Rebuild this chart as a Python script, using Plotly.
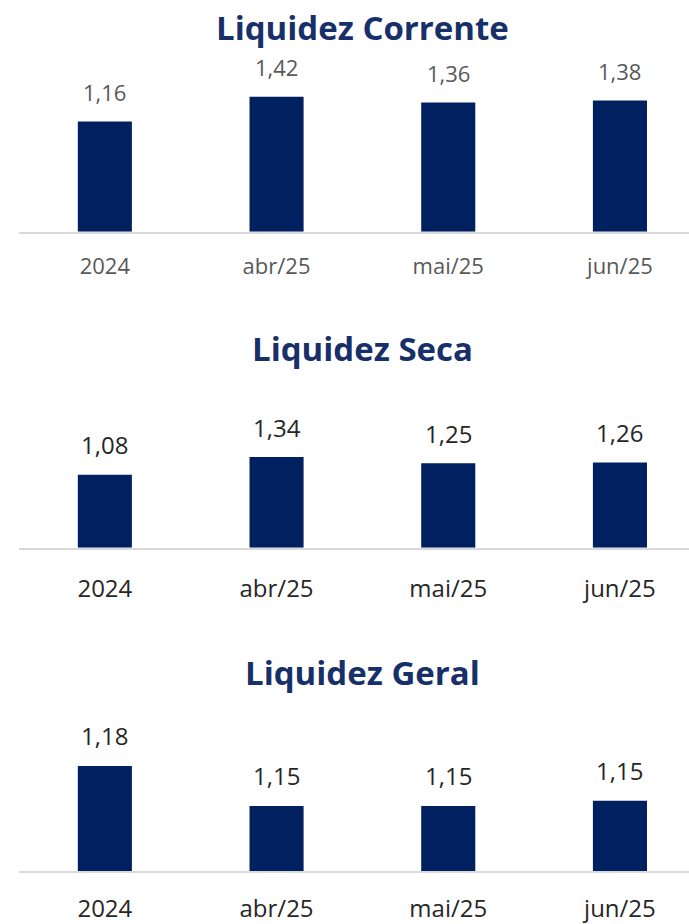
import plotly.graph_objects as go

# ---- data ----
categorias = ["2024", "abr/25", "mai/25", "jun/25"]
liquidez_corrente = [1.16, 1.42, 1.36, 1.38]
liquidez_seca = [1.08, 1.34, 1.25, 1.26]
liquidez_geral = [1.18, 1.15, 1.15, 1.154]
titulos = ["Liquidez Corrente", "Liquidez Seca", "Liquidez Geral"]

# ---- layout constants (pixels) ----
W, H = 689, 924
BAR = "#002060"
TITLE_C = "#17306a"
FONT = "Open Sans"

def py(px):
    return 1 - px / H

# (bottom px, top px, y-min, px per unit, title y px, label colour, font size, standoff)
panels = [
    (231.7, 50, 0.0, 95.0, 27, "#595959", 22, 14),
    (547.7, 380, 0.0, 67.6, 349, "#262626", 24, 18),
    (871.3, 700, 1.101, 1333.0, 672, "#262626", 24, 15),
]
series = [liquidez_corrente, liquidez_seca, liquidez_geral]

fig = go.Figure()
annotations = []
x_left = 19 / W
cat_px = 171.7
x_max = -0.5 + (W - 19) / cat_px

for i, (vals, (bot, top, ymin, scale, ty, lc, fs, so)) in enumerate(zip(series, panels)):
    n = "" if i == 0 else str(i + 1)
    fig.add_trace(go.Bar(
        x=categorias, y=vals, marker=dict(color=BAR, line=dict(width=0)),
        xaxis="x" + n, yaxis="y" + n, showlegend=False, hoverinfo="skip",
    ))
    ymax = ymin + (bot - top) / scale
    fig.update_layout(**{
        "xaxis" + n: dict(
            type="category", categoryorder="array", categoryarray=categorias,
            domain=[x_left, 1], anchor="y" + n, range=[-0.5, x_max],
            showline=True, linecolor="#d9d9d9", linewidth=2,
            showgrid=False, zeroline=False, ticks="",
            tickfont=dict(family=FONT, size=fs, color=lc),
            ticklabelstandoff=so, automargin=False,
            fixedrange=True,
        ),
        "yaxis" + n: dict(
            domain=[py(bot), py(top)], anchor="x" + n, range=[ymin, ymax],
            visible=False, showgrid=False, zeroline=False, fixedrange=True,
            automargin=False,
        ),
    })
    for j, v in enumerate(vals):
        annotations.append(dict(
            x=j, y=v, xref="x" + n, yref="y" + n, yshift=30,
            text=f"{v:.2f}".replace(".", ","), showarrow=False,
            yanchor="middle", xanchor="center",
            font=dict(family=FONT, size=fs, color=lc),
        ))
    annotations.append(dict(
        x=362.5 / W, y=py(ty), xref="paper", yref="paper",
        text=f"<b>{titulos[i]}</b>", showarrow=False,
        xanchor="center", yanchor="middle",
        font=dict(family=FONT, size=33, color=TITLE_C),
    ))

fig.update_layout(
    width=W, height=H, margin=dict(l=0, r=0, t=0, b=0),
    paper_bgcolor="white", plot_bgcolor="white",
    bargap=0.685, annotations=annotations,
)

fig.write_html("out.html", config={"displayModeBar": False},
               post_script="document.body.style.margin='0';")
